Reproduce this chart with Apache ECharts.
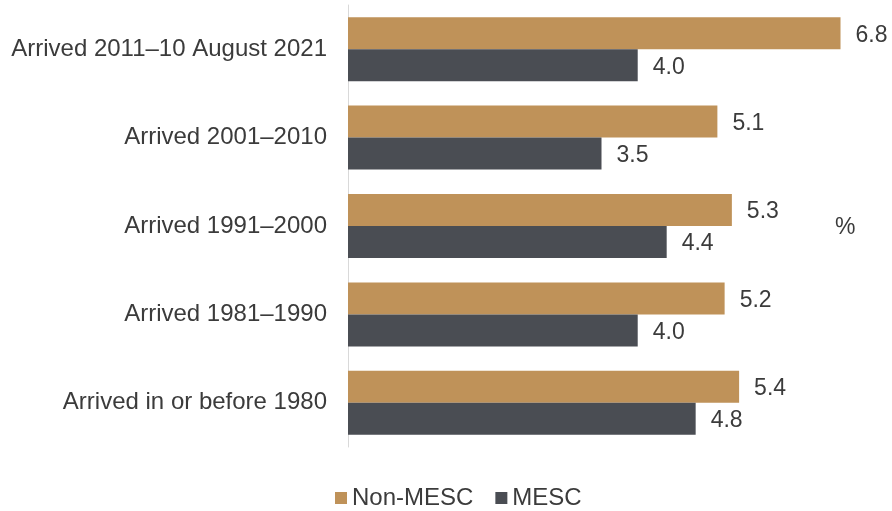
<!DOCTYPE html>
<html>
<head>
<meta charset="utf-8">
<script src="https://cdn.jsdelivr.net/npm/echarts@6/dist/echarts.min.js"></script>
<style>
  html, body { margin: 0; padding: 0; background: #ffffff; }
  #chart { width: 892px; height: 511px; }
</style>
</head>
<body>
<div id="chart"></div>
<script>
// Arrival periods, listed top to bottom
const categories = [
  'Arrived 2011\u201310 August 2021',
  'Arrived 2001\u20132010',
  'Arrived 1991\u20132000',
  'Arrived 1981\u20131990',
  'Arrived in or before 1980'
];
const seriesNames = ['Non-MESC', 'MESC'];
const nonMescValues = [6.8, 5.1, 5.3, 5.2, 5.4];
const mescValues = [4.0, 3.5, 4.4, 4.0, 4.8];
const unitLabel = '%';

const FONT = 'Liberation Sans, Arial, sans-serif';
const TEXT_COLOR = '#3b3b3b';

const chart = echarts.init(document.getElementById('chart'), null, { renderer: 'canvas' });

const valueLabel = {
  show: true,
  position: 'right',
  distance: 15,
  offset: [0, 2],
  color: TEXT_COLOR,
  fontFamily: FONT,
  fontSize: 23,
  formatter: p => p.value.toFixed(1)
};

chart.setOption({
  animation: false,
  backgroundColor: '#ffffff',
  grid: { left: 348, top: 5, bottom: 64, right: 37, containLabel: false },
  xAxis: {
    type: 'value',
    min: 0,
    max: 7,
    show: false
  },
  yAxis: {
    type: 'category',
    data: categories,
    inverse: true,
    axisLine: { show: true, lineStyle: { color: '#d9d9d9', width: 1 } },
    axisTick: { show: false },
    axisLabel: {
      margin: 21,
      color: TEXT_COLOR,
      fontFamily: FONT,
      fontSize: 24,
      padding: [3, 0, 0, 0]
    }
  },
  legend: {
    top: 486,
    left: 335,
    padding: 0,
    itemWidth: 12,
    itemHeight: 12,
    itemGap: 22,
    icon: 'rect',
    textStyle: { color: TEXT_COLOR, fontFamily: FONT, fontSize: 24 },
    data: seriesNames
  },
  series: [
    {
      name: seriesNames[0],
      type: 'bar',
      data: nonMescValues,
      barWidth: 32,
      barGap: '0%',
      itemStyle: { color: '#bf9259' },
      label: valueLabel
    },
    {
      name: seriesNames[1],
      type: 'bar',
      data: mescValues,
      barWidth: 32,
      barGap: '0%',
      itemStyle: { color: '#4a4d53' },
      label: valueLabel
    }
  ],
  graphic: [
    {
      type: 'text',
      left: 835,
      top: 216,
      style: { text: unitLabel, fill: TEXT_COLOR, font: '23px ' + FONT }
    }
  ]
});
</script>
</body>
</html>
